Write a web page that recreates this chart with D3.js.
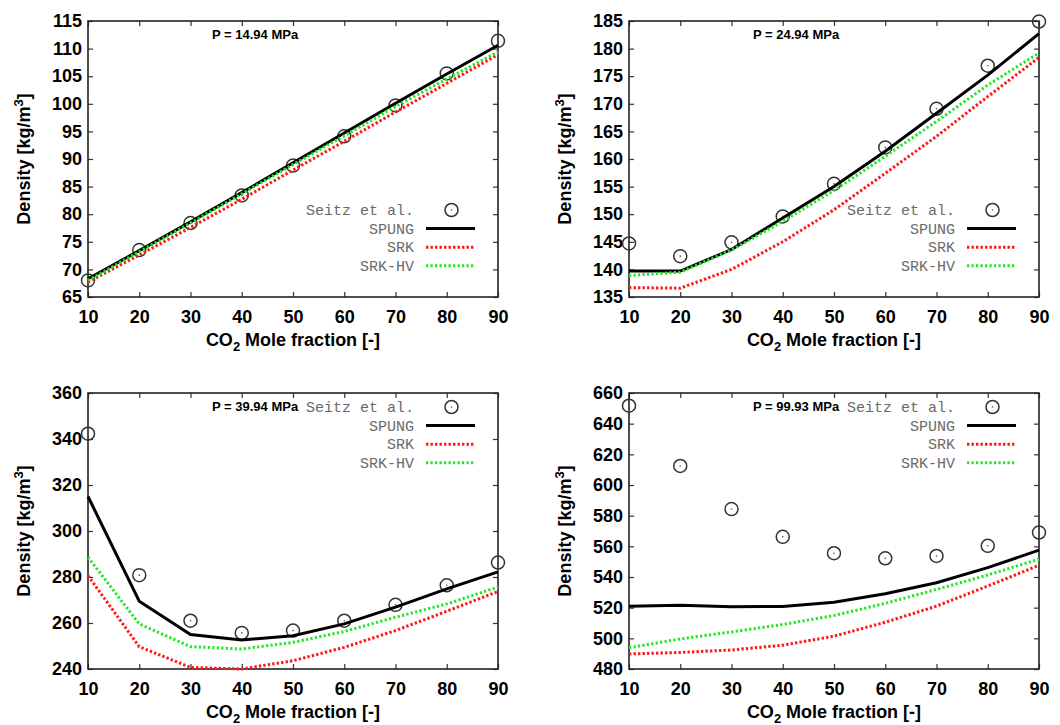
<!DOCTYPE html>
<html>
<head>
<meta charset="utf-8">
<script src="https://cdn.jsdelivr.net/npm/d3@7"></script>
<style>
  body { margin: 0; background: #fff; }
  svg { display: block; }
</style>
</head>
<body>
<svg id="chart" width="1060" height="725"></svg>
<script>
// CO2 mole fraction (x axis, all panels)
const MOLE_FRACTION = [10, 20, 30, 40, 50, 60, 70, 80, 90];

// P = 14.94 MPa
const SEITZ_14 = [68.0, 73.5, 78.4, 83.4, 88.8, 94.1, 99.7, 105.5, 111.4];
const SPUNG_14 = [68.3, 73.4, 78.6, 83.9, 89.3, 94.7, 100.1, 105.4, 110.6];
const SRK_14 = [67.7, 72.6, 77.6, 82.7, 88.0, 93.2, 98.5, 103.7, 108.9];
const SRKHV_14 = [68.0, 73.2, 78.4, 83.7, 89.0, 94.2, 99.5, 104.5, 109.4];

// P = 24.94 MPa
const SEITZ_24 = [144.7, 142.4, 144.9, 149.6, 155.5, 162.1, 169.1, 176.9, 184.9];
const SPUNG_24 = [139.7, 139.7, 143.6, 149.3, 155.0, 161.4, 168.3, 175.2, 182.7];
const SRK_24 = [136.7, 136.6, 140.0, 145.0, 150.8, 157.4, 164.1, 171.3, 178.4];
const SRKHV_24 = [138.9, 139.5, 143.5, 148.7, 154.3, 160.5, 166.8, 173.4, 179.2];

// P = 39.94 MPa
const SEITZ_39 = [342.3, 280.8, 261.0, 255.7, 256.7, 261.0, 267.9, 276.4, 286.3];
const SPUNG_39 = [315.0, 269.5, 255.0, 252.6, 254.5, 259.6, 266.9, 274.8, 282.2];
const SRK_39 = [280.6, 249.7, 240.7, 240.0, 243.6, 249.4, 256.7, 265.1, 273.7];
const SRKHV_39 = [288.6, 259.6, 249.7, 248.7, 251.6, 256.3, 262.5, 268.3, 275.6];

// P = 99.93 MPa
const SEITZ_99 = [651.7, 612.4, 584.3, 566.2, 555.5, 552.2, 553.7, 560.3, 569.0];
const SPUNG_99 = [521.0, 521.5, 520.6, 520.8, 523.6, 529.1, 536.3, 546.1, 557.5];
const SRK_99 = [489.8, 490.8, 492.4, 495.5, 501.4, 510.5, 521.0, 534.1, 547.6];
const SRKHV_99 = [493.9, 499.6, 504.2, 509.0, 514.9, 522.8, 531.9, 541.3, 551.6];

const PANELS = [
    { title: "P = 14.94 MPa", yMin: 65, yMax: 115, yStep: 5, seitz: SEITZ_14, spung: SPUNG_14, srk: SRK_14, srkhv: SRKHV_14, left: 88, top: 21, legendTop: false },
    { title: "P = 24.94 MPa", yMin: 135, yMax: 185, yStep: 5, seitz: SEITZ_24, spung: SPUNG_24, srk: SRK_24, srkhv: SRKHV_24, left: 629, top: 21, legendTop: false },
    { title: "P = 39.94 MPa", yMin: 240, yMax: 360, yStep: 20, seitz: SEITZ_39, spung: SPUNG_39, srk: SRK_39, srkhv: SRKHV_39, left: 88, top: 393, legendTop: true },
    { title: "P = 99.93 MPa", yMin: 480, yMax: 660, yStep: 20, seitz: SEITZ_99, spung: SPUNG_99, srk: SRK_99, srkhv: SRKHV_99, left: 629, top: 393, legendTop: true },
];

const LEGEND_NAMES = ["Seitz et al.", "SPUNG", "SRK", "SRK-HV"];

const W = 410, H = 276;
const SANS = "'Liberation Sans', Arial, sans-serif";
const MONO = "'Liberation Mono', 'Courier New', monospace";

const STYLES = {
    spung: { stroke: "#000", width: 3, dash: null },
    srk: { stroke: "#ff1a1a", width: 3, dash: "2.4,2.1" },
    srkhv: { stroke: "#1ee81e", width: 3, dash: "2.2,2.3" },
};

const svg = d3.select("#chart");

function drawPanel(p) {
    const g = svg.append("g").attr("transform", `translate(${p.left},${p.top})`);

    const x = d3.scaleLinear().domain([10, 90]).range([0, W]);
    const y = d3.scaleLinear().domain([p.yMin, p.yMax]).range([H, 0]);
    const yTicks = d3.range(p.yMin, p.yMax + 0.001, p.yStep);
    const xTicks = MOLE_FRACTION;

    // inward ticks on all four sides (gnuplot style)
    const axisStyle = sel => {
        sel.select(".domain").remove();
        sel.selectAll("line").attr("stroke", "#333").attr("stroke-width", 1.2);
    };
    g.append("g").attr("transform", `translate(0,${H})`)
        .call(d3.axisBottom(x).tickValues(xTicks).tickSize(-5).tickPadding(13))
        .call(axisStyle)
        .selectAll("text").attr("font-family", SANS).attr("font-weight", "bold").attr("font-size", 18).attr("fill", "#000");
    g.append("g")
        .call(d3.axisTop(x).tickValues(xTicks).tickSize(-5).tickFormat(""))
        .call(axisStyle);
    g.append("g")
        .call(d3.axisLeft(y).tickValues(yTicks).tickSize(-5).tickPadding(6))
        .call(axisStyle)
        .selectAll("text").attr("font-family", SANS).attr("font-weight", "bold").attr("font-size", 18).attr("fill", "#000");
    g.append("g").attr("transform", `translate(${W},0)`)
        .call(d3.axisRight(y).tickValues(yTicks).tickSize(-5).tickFormat(""))
        .call(axisStyle);

    // frame
    g.append("rect")
        .attr("width", W).attr("height", H)
        .attr("fill", "none").attr("stroke", "#222").attr("stroke-width", 1.6);

    // axis labels
    const xl = g.append("text")
        .attr("x", W / 2).attr("y", H + 49)
        .attr("text-anchor", "middle")
        .attr("font-family", SANS).attr("font-weight", "bold").attr("font-size", 18);
    xl.append("tspan").text("CO");
    xl.append("tspan").attr("font-size", 13).attr("dy", 5).text("2");
    xl.append("tspan").attr("dy", -5).text(" Mole fraction [-]");

    const yl = g.append("text")
        .attr("transform", `translate(-58,${H / 2}) rotate(-90)`)
        .attr("text-anchor", "middle")
        .attr("font-family", SANS).attr("font-weight", "bold").attr("font-size", 18);
    yl.append("tspan").text("Density [kg/m");
    yl.append("tspan").attr("font-size", 13).attr("dy", -7).text("3");
    yl.append("tspan").attr("dy", 7).text("]");

    // pressure label
    g.append("text")
        .attr("x", 124).attr("y", 18)
        .attr("font-family", SANS).attr("font-weight", "bold").attr("font-size", 13)
        .text(p.title);

    // measured points
    const pts = MOLE_FRACTION.map((m, i) => ({ m, v: p.seitz[i] }));
    const marker = sel => {
        sel.append("circle").attr("r", 6.5)
            .attr("fill", "none").attr("stroke", "#333").attr("stroke-width", 1.5);
        sel.append("circle").attr("r", 0.8).attr("fill", "#555");
    };
    g.selectAll(".pt").data(pts).enter().append("g")
        .attr("class", "pt")
        .attr("transform", d => `translate(${x(d.m)},${y(d.v)})`)
        .call(marker);

    // model lines
    const line = d3.line().x((d, i) => x(MOLE_FRACTION[i])).y(d => y(d));
    ["spung", "srk", "srkhv"].forEach(key => {
        const s = STYLES[key];
        g.append("path")
            .datum(p[key])
            .attr("d", line)
            .attr("fill", "none")
            .attr("stroke", s.stroke)
            .attr("stroke-width", s.width)
            .attr("stroke-dasharray", s.dash);
    });

    // legend
    const ly0 = p.legendTop ? 14 : 189;
    const lg = g.append("g").attr("transform", `translate(${W - 84},${ly0})`);
    LEGEND_NAMES.forEach((name, i) => {
        const row = lg.append("g").attr("transform", `translate(0,${i * 18.6})`);
        row.append("text")
            .attr("x", 0).attr("y", 5)
            .attr("text-anchor", "end")
            .attr("font-family", MONO).attr("font-size", 15).attr("fill", "#6a6a6a")
            .text(name);
        if (i === 0) {
            row.append("g").attr("transform", "translate(37.5,0)").call(marker);
        } else {
            const s = STYLES[["spung", "srk", "srkhv"][i - 1]];
            row.append("line")
                .attr("x1", 12).attr("x2", 61).attr("y1", 0).attr("y2", 0)
                .attr("stroke", s.stroke).attr("stroke-width", s.width)
                .attr("stroke-dasharray", s.dash);
        }
    });
}

PANELS.forEach(drawPanel);
</script>
</body>
</html>
